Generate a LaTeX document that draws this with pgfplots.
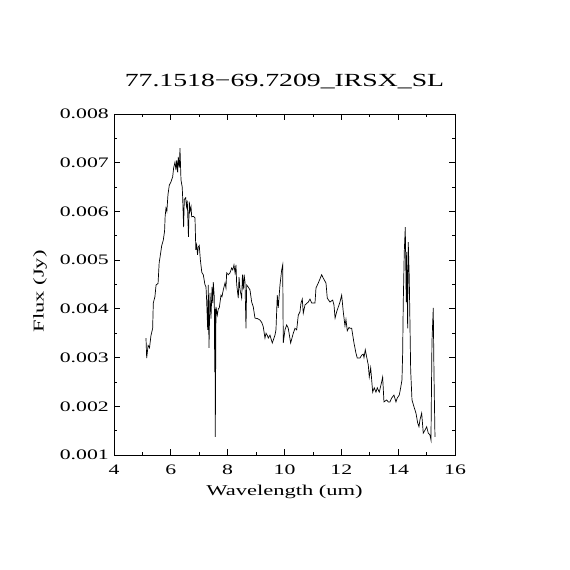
\documentclass[border=0pt]{standalone}
\usepackage{pgfplots}
\pgfplotsset{compat=1.18}
\usepackage{fontspec}
\setmainfont[FakeStretch=1.5]{Liberation Serif}
\begin{document}
\begin{tikzpicture}
\path[use as bounding box] (0,0) rectangle (570pt,570pt);
\begin{axis}[
  at={(114pt,115pt)}, anchor=south west,
  scale only axis,
  width=341pt, height=341pt,
  xmin=4, xmax=16, ymin=0.001, ymax=0.008,
  xtick={4,6,...,16},
  ytick={0.001,0.002,...,0.008},
  minor x tick num=1, minor y tick num=1,
  tick align=inside,
  xtick pos=both, ytick pos=both,
  xticklabel pos=lower, yticklabel pos=left,
  major tick length=6pt, minor tick length=3pt,
  axis line style={line width=0.8pt},
  every tick/.style={line width=0.8pt, black},
  scaled y ticks=false,
  /pgf/number format/assume math mode=true,
  y tick label style={/pgf/number format/fixed, /pgf/number format/precision=3, /pgf/number format/fixed zerofill},
  yticklabel style={inner sep=0pt, xshift=-5pt},
  xticklabel style={inner sep=0pt, yshift=-10pt},
  ticklabel style={font=\fontsize{14.5}{16}\selectfont},
  xlabel={Wavelength (um)}, ylabel={Flux (Jy)},
  label style={font=\fontsize{15}{18}\selectfont},
  xlabel style={at={(axis description cs:0.5,-0.108)}, anchor=center},
  ylabel style={at={(axis description cs:-0.217,0.48)}, anchor=center},
  title={77.1518−69.7209\_IRSX\_SL},
  title style={font=\fontsize{18.5}{22}\selectfont, at={(axis description cs:0.5,1.077)}, anchor=center},
]
\addplot[black, line width=0.7pt, mark=none] coordinates {
(5.126,0.00340) (5.15,0.00299) (5.20,0.00325) (5.25,0.00320) (5.30,0.00345)
(5.36,0.00360) (5.383,0.00412) (5.44,0.00425) (5.48,0.00449) (5.55,0.00452)
(5.59,0.00495) (5.62,0.00506) (5.68,0.00530) (5.735,0.00541) (5.78,0.00560)
(5.80,0.00590) (5.83,0.00607) (5.86,0.00600) (5.90,0.00635) (5.946,0.00654)
(6.00,0.00660) (6.065,0.00671) (6.10,0.00690) (6.146,0.00701) (6.18,0.00685)
(6.206,0.00705) (6.24,0.00680) (6.262,0.00712) (6.30,0.00690) (6.322,0.00730)
(6.357,0.00665) (6.40,0.00650) (6.417,0.00628) (6.45,0.00568) (6.474,0.00625)
(6.523,0.00628) (6.55,0.00610) (6.579,0.00622) (6.62,0.00548) (6.65,0.00620)
(6.674,0.00600) (6.71,0.00610) (6.734,0.00589) (6.79,0.00590) (6.85,0.00587)
(6.88,0.00521) (6.91,0.00531) (6.94,0.00511) (6.966,0.00527) (7.00,0.00530)
(7.04,0.00500) (7.09,0.00475) (7.142,0.00470) (7.20,0.00450) (7.237,0.00445)
(7.26,0.00418) (7.297,0.00357) (7.318,0.00449) (7.343,0.00320) (7.378,0.00433)
(7.413,0.00380) (7.45,0.00445) (7.473,0.00412) (7.494,0.00455) (7.529,0.00424)
(7.545,0.00270) (7.552,0.00400) (7.564,0.00137) (7.589,0.00404) (7.635,0.00387)
(7.67,0.00400) (7.705,0.00402) (7.765,0.00428) (7.80,0.00425) (7.846,0.00439)
(7.906,0.00453) (7.94,0.00443) (7.965,0.00474) (8.02,0.00470) (8.082,0.00474)
(8.141,0.00484) (8.18,0.00480) (8.222,0.00490) (8.26,0.00474) (8.293,0.00490)
(8.317,0.00450) (8.374,0.00422) (8.40,0.00465) (8.433,0.00440) (8.493,0.00422)
(8.52,0.00470) (8.55,0.00440) (8.58,0.00470) (8.609,0.00455) (8.645,0.00360)
(8.669,0.00449) (8.72,0.00445) (8.785,0.00439) (8.845,0.00414) (8.901,0.00404)
(8.961,0.00381) (9.05,0.00380) (9.137,0.00377) (9.20,0.00372) (9.253,0.00363)
(9.313,0.00340) (9.35,0.00350) (9.40,0.00345) (9.429,0.00340) (9.489,0.00346)
(9.57,0.00330) (9.665,0.00346) (9.70,0.00357) (9.746,0.00428) (9.78,0.00402)
(9.841,0.00449) (9.901,0.00480) (9.936,0.00490) (9.957,0.00330) (10.017,0.00357)
(10.077,0.00367) (10.133,0.00360) (10.217,0.00330) (10.309,0.00350) (10.369,0.00360)
(10.429,0.00357) (10.485,0.00387) (10.545,0.00394) (10.58,0.00412) (10.626,0.00420)
(10.661,0.00391) (10.721,0.00408) (10.837,0.00414) (10.897,0.00420) (10.957,0.00412)
(11.073,0.00412) (11.108,0.00443) (11.189,0.00453) (11.308,0.00470) (11.365,0.00463)
(11.46,0.00453) (11.505,0.00422) (11.6,0.00414) (11.695,0.00418) (11.741,0.00408)
(11.78,0.00381) (11.836,0.00394) (11.952,0.00414) (12.012,0.00428) (12.068,0.00394)
(12.128,0.00365) (12.163,0.00378) (12.209,0.00355) (12.269,0.00362) (12.304,0.00360)
(12.364,0.00360) (12.445,0.00330) (12.515,0.00309) (12.561,0.00299) (12.656,0.00299)
(12.716,0.00305) (12.772,0.00307) (12.797,0.00300) (12.843,0.00316) (12.892,0.00301)
(12.948,0.00285) (12.983,0.00260) (13.033,0.00279) (13.068,0.00254) (13.103,0.00229)
(13.159,0.00238) (13.219,0.00229) (13.265,0.00238) (13.335,0.00229) (13.419,0.00250)
(13.454,0.00260) (13.5,0.00209) (13.595,0.00213) (13.651,0.00209) (13.711,0.00209)
(13.771,0.00217) (13.852,0.00223) (13.922,0.00209) (13.968,0.00217) (14.039,0.00223)
(14.088,0.00238) (14.134,0.00254) (14.158,0.00309) (14.179,0.00412) (14.215,0.00517)
(14.25,0.00568) (14.285,0.00414) (14.299,0.00517) (14.334,0.00360) (14.355,0.00537)
(14.39,0.00465) (14.44,0.00274) (14.486,0.00213) (14.556,0.00199) (14.626,0.00186)
(14.686,0.00166) (14.732,0.00158) (14.767,0.00172) (14.827,0.00186) (14.883,0.00145)
(14.943,0.00151) (15.003,0.00158) (15.059,0.00145) (15.119,0.00141) (15.154,0.00131)
(15.189,0.00332) (15.235,0.00402) (15.26,0.00268) (15.295,0.00137)
};
\end{axis}
\end{tikzpicture}
\end{document}
